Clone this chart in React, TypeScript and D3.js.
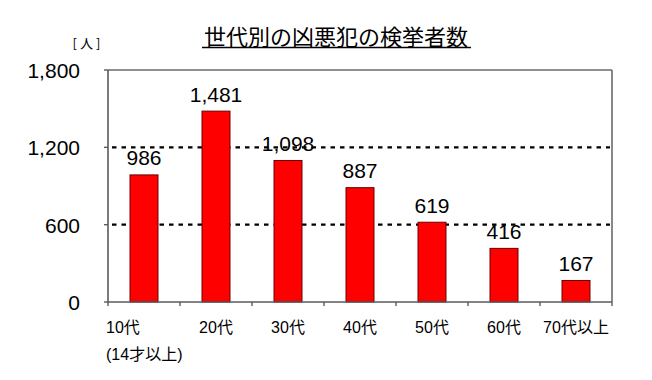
import React from "react";
import * as d3 from "d3";

const categories = ["10代", "20代", "30代", "40代", "50代", "60代", "70代以上"];
const subLabels = ["(14才以上)", "", "", "", "", "", ""];
const values = [986, 1481, 1098, 887, 619, 416, 167];
const yTicks = [0, 600, 1200, 1800];
const gridTicks = [600, 1200];
const title = "世代別の凶悪犯の検挙者数";
const unitLabel = "[人]";

const W = 652;
const H = 380;
const margin = { left: 108, right: 40, top: 70, bottom: 78 };
const FONT = "'Liberation Sans', Arial, 'Noto Sans CJK JP', sans-serif";
const CJK = "'Noto Sans CJK JP', 'Liberation Sans', sans-serif";

export default function App() {
  const x = d3
    .scaleBand<string>()
    .domain(categories)
    .range([margin.left, W - margin.right])
    .paddingInner(0)
    .paddingOuter(0);
  const y = d3.scaleLinear().domain([0, 1800]).range([H - margin.bottom, margin.top]);
  const fmt = d3.format(",");
  const bw = 28;
  const x0 = margin.left;
  const x1 = W - margin.right;
  const y0 = y(0);
  const yTop = y(1800);

  return (
    <svg
      width={W}
      height={H}
      style={{ position: "absolute", left: 0, top: 0, background: "#fff" }}
    >
      <rect x={0} y={0} width={W} height={H} fill="#fff" />
      {/* title */}
      <text x={336} y={45} textAnchor="middle" fontFamily={CJK} fontSize={22} fill="#000">
        {title}
      </text>
      <line x1={202} x2={471} y1={47.5} y2={47.5} stroke="#000" strokeWidth={1.3} />
      <text
        x={88}
        y={48}
        textAnchor="middle"
        fontFamily={CJK}
        fontSize={13}
        letterSpacing={3}
        fill="#000"
      >
        {unitLabel}
      </text>

      {/* gridlines */}
      {gridTicks.map((t) => (
        <line
          key={"g" + t}
          x1={x0 + 4}
          x2={x1 - 2}
          y1={y(t)}
          y2={y(t)}
          stroke="#000"
          strokeWidth={2.2}
          strokeDasharray="4.5 5"
        />
      ))}

      {/* frame */}
      <line x1={x0} x2={x1} y1={yTop} y2={yTop} stroke="#6b6b6b" strokeWidth={1.6} />
      <line x1={x1} x2={x1} y1={yTop} y2={y0} stroke="#6b6b6b" strokeWidth={1.6} />
      <line x1={x0} x2={x0} y1={yTop} y2={y0} stroke="#5a5a5a" strokeWidth={1.6} />

      {/* bars */}
      {values.map((v, i) => {
        const cx = (x(categories[i]) as number) + x.bandwidth() / 2;
        return (
          <g key={"b" + i}>
            <rect
              x={cx - bw / 2}
              y={y(v)}
              width={bw}
              height={y0 - y(v)}
              fill="#ff0000"
              stroke="#6a0000"
              strokeWidth={1}
            />
            <text
              x={cx}
              y={y(v) - 9.5}
              textAnchor="middle"
              fontFamily={FONT}
              fontSize={21}
              fill="#000"
            >
              {fmt(v)}
            </text>
          </g>
        );
      })}

      {/* bottom axis */}
      <line x1={x0} x2={x1} y1={y0} y2={y0} stroke="#5a5a5a" strokeWidth={1.6} />
      {categories.map((c, i) => {
        const bx = x(c) as number;
        return (
          <line key={"xt" + i} x1={bx} x2={bx} y1={y0} y2={y0 + 4} stroke="#5a5a5a" strokeWidth={1.4} />
        );
      })}
      <line x1={x1} x2={x1} y1={y0} y2={y0 + 4} stroke="#5a5a5a" strokeWidth={1.4} />

      {/* y ticks and labels */}
      {yTicks.map((t) => (
        <g key={"y" + t}>
          <line x1={x0 - 4} x2={x0} y1={y(t)} y2={y(t)} stroke="#5a5a5a" strokeWidth={1.4} />
          <text
            x={80}
            y={y(t) + 8}
            textAnchor="end"
            fontFamily={FONT}
            fontSize={21}
            fill="#000"
          >
            {fmt(t)}
          </text>
        </g>
      ))}

      {/* category labels */}
      {categories.map((c, i) => {
        const cx = (x(c) as number) + x.bandwidth() / 2;
        const sub = subLabels[i];
        if (sub) {
          return (
            <g key={"c" + i}>
              <text x={cx - 38} y={332.5} fontFamily={FONT} fontSize={16} fill="#000">
                {c}
              </text>
              <text x={cx - 38} y={360} fontFamily={FONT} fontSize={16} fill="#000">
                {sub}
              </text>
            </g>
          );
        }
        return (
          <text
            key={"c" + i}
            x={cx}
            y={332.5}
            textAnchor="middle"
            fontFamily={FONT}
            fontSize={16}
            fill="#000"
          >
            {c}
          </text>
        );
      })}
    </svg>
  );
}
